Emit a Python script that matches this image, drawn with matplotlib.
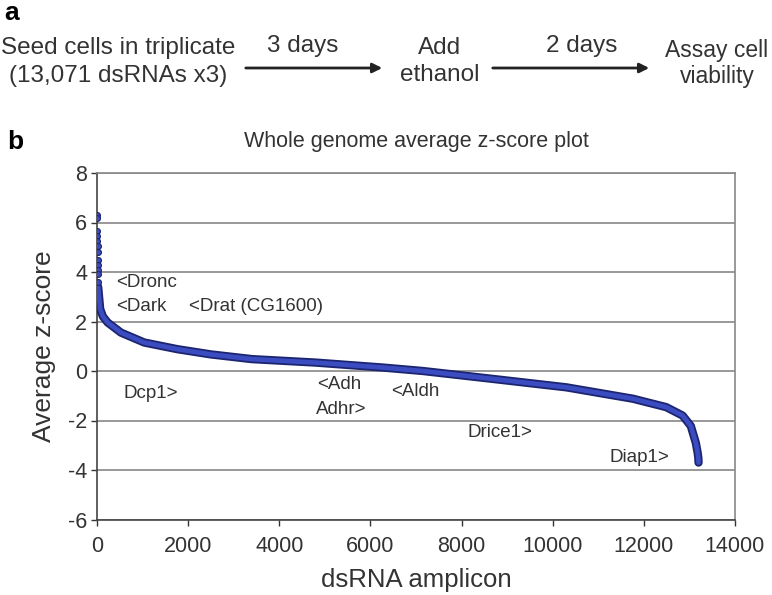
import matplotlib
matplotlib.use("Agg")
import matplotlib.pyplot as plt
from matplotlib.patches import FancyArrowPatch

plt.rcParams['font.family'] = ['Liberation Sans', 'DejaVu Sans']

# ---- data ----
# isolated top-ranked points (rank, average z-score)
top_ranks = [1, 3, 5, 7, 9, 11, 13, 15, 17, 19, 21, 23]
top_scores = [6.3, 6.2, 5.65, 5.45, 5.25, 5.05, 4.8, 4.5, 4.3, 4.1, 3.9, 3.6]

# sorted curve anchors (rank, average z-score)
curve_ranks = [25, 45, 70, 130, 233, 527, 1038, 1769, 2500, 3400, 4800,
               6270, 7150, 8830, 10300, 11760, 12490, 12850, 13030, 13140,
               13180, 13195, 13200]
curve_scores = [3.4, 3.0, 2.5, 2.2, 1.96, 1.55, 1.15, 0.88, 0.67, 0.48, 0.34,
                0.14, 0.0, -0.35, -0.66, -1.12, -1.46, -1.8, -2.22, -2.9,
                -3.3, -3.5, -3.7]

gene_labels = ['<Dronc', '<Dark', '<Drat (CG1600)', 'Dcp1>', '<Adh', 'Adhr>',
               '<Aldh', 'Drice1>', 'Diap1>']
gene_x = [417, 417, 2019, 592, 4828, 4806, 6451, 8141, 11257]
gene_y = [3.58, 2.61, 2.61, -0.9, -0.54, -1.55, -0.82, -2.48, -3.49]

x_ticks = [0, 2000, 4000, 6000, 8000, 10000, 12000, 14000]
y_ticks = [-6, -4, -2, 0, 2, 4, 6, 8]

W, H = 772, 595
fig = plt.figure(figsize=(W / 100, H / 100), dpi=100)
ax = fig.add_axes([97 / W, 1 - 519.5 / H, (735 - 97) / W, (519.5 - 173) / H])

ax.set_xlim(0, 14000)
ax.set_ylim(-6, 8)
ax.set_xticks(x_ticks)
ax.set_yticks(y_ticks)
ax.set_xticklabels([str(t) for t in x_ticks])
ax.set_yticklabels([str(t) for t in y_ticks])
ax.tick_params(labelsize=15.5, colors='#333333', length=4, width=1,
               direction='out')
ax.tick_params(axis='x', pad=8)
ax.tick_params(axis='y', pad=3)
ax.grid(axis='y', color='#888888', linewidth=1.2)
ax.set_axisbelow(True)
for s in ['top', 'right']:
    ax.spines[s].set_color('#888888')
    ax.spines[s].set_linewidth(1.2)
for s in ['left', 'bottom']:
    ax.spines[s].set_color('#444444')
    ax.spines[s].set_linewidth(1.2)

# curve
ax.plot(curve_ranks, curve_scores, color='#1c2570', linewidth=6,
        solid_capstyle='round', zorder=3)
ax.plot(curve_ranks, curve_scores, color='#3a4cc0', linewidth=3.4,
        solid_capstyle='round', zorder=4)
ax.scatter(top_ranks, top_scores, s=18, color='#3a4cc0', edgecolor='#1c2570',
           linewidth=0.8, zorder=5)

for lab, gx, gy in zip(gene_labels, gene_x, gene_y):
    ax.text(gx, gy, lab, fontsize=13.5, color='#333333', ha='left', va='center')

ax.set_title('Whole genome average z-score plot', fontsize=15.5, color='#333333',
             pad=19)
ax.set_xlabel('dsRNA amplicon', fontsize=18.5, color='#333333', labelpad=8)
ax.set_ylabel('Average z-score', fontsize=19, color='#333333', labelpad=9)

# panel labels
fig.text(4 / W, 1 - 13 / H, 'a', fontsize=19, fontweight='bold', va='center',
         ha='left')
fig.text(7 / W, 1 - 142 / H, 'b', fontsize=19, fontweight='bold', va='center',
         ha='left')

# schematic (panel a)
def ftext(x, y, s, size=17.5, **kw):
    fig.text(x / W, 1 - y / H, s, fontsize=size, color='#333333',
             ha='center', va='center', **kw)

ftext(118, 48, 'Seed cells in triplicate')
ftext(118, 76, '(13,071 dsRNAs x3)')
ftext(303, 46, '3 days')
ftext(440, 48, 'Add')
ftext(440, 75, 'ethanol')
ftext(582, 46, '2 days')
ftext(717, 50, 'Assay cell', size=16.5)
ftext(717, 77, 'viability', size=16.5)

for x0, x1 in [(243, 385), (490, 652)]:
    arr = FancyArrowPatch((x0 / W, 1 - 68 / H), (x1 / W, 1 - 68 / H),
                          transform=fig.transFigure, arrowstyle='-|>',
                          mutation_scale=14, color='#222222', linewidth=2)
    fig.add_artist(arr)

fig.savefig('out.png', dpi=100)
